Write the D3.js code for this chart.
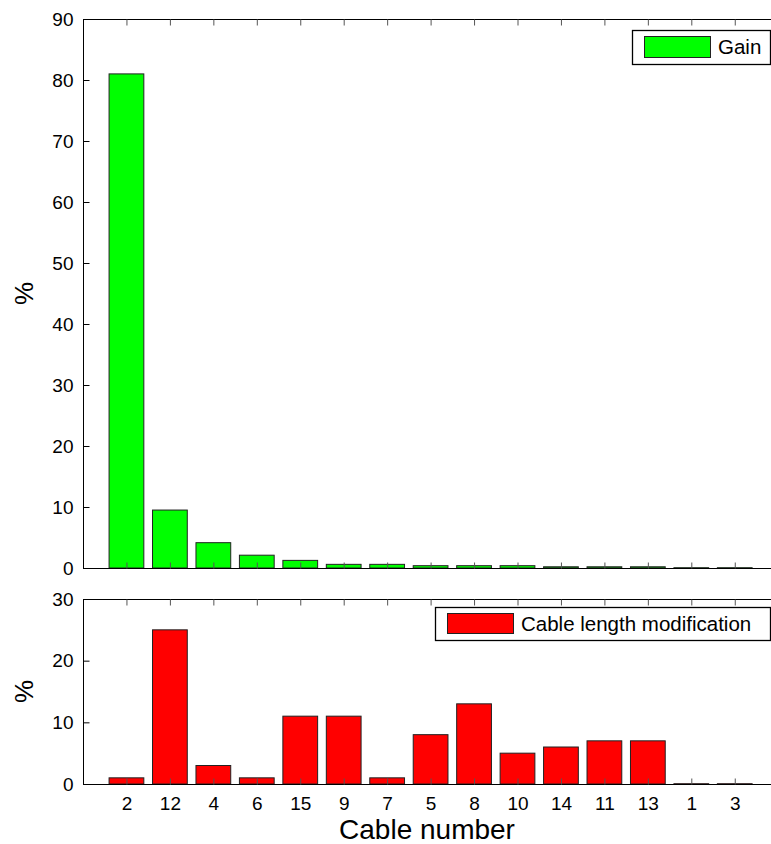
<!DOCTYPE html>
<html><head><meta charset="utf-8">
<script src="https://cdn.jsdelivr.net/npm/d3@7"></script>
<style>body{margin:0;background:#fff}svg{display:block}text{font-family:"Liberation Sans",Arial,sans-serif}</style>
</head><body>
<svg id="c" width="771" height="844"></svg>
<script>
const cables = ["2","12","4","6","15","9","7","5","8","10","14","11","13","1","3"];
const gainValues = [81, 9.5, 4.15, 2.1, 1.25, 0.6, 0.6, 0.38, 0.38, 0.38, 0.2, 0.2, 0.2, 0.05, 0.05];
const cableLengthValues = [1, 25, 3, 1, 11, 11, 1, 8, 13, 5, 6, 7, 7, 0.05, 0.05];
const gainTicks = [0,10,20,30,40,50,60,70,80,90];
const lengthTicks = [0,10,20,30];

const svg = d3.select("#c");
const left = 83, unit = 43.45;
const x = d3.scaleLinear().domain([0, cables.length + 1]).range([left, left + unit*(cables.length+1)]);
const barW = 0.8;

function panel(values, ticks, yMax, top, bottom, color, legendLabel, legendBox, showX) {
  const y = d3.scaleLinear().domain([0, yMax]).range([bottom, top]);
  const g = svg.append("g");
  g.selectAll("rect.bar").data(values).enter().append("rect")
    .attr("x", (d,i) => x(i+1-barW/2))
    .attr("width", x(barW) - x(0))
    .attr("y", d => y(d))
    .attr("height", d => y(0) - y(d))
    .attr("fill", color).attr("stroke", "#222").attr("stroke-width", 1);
  const xr = x.range();
  g.append("line").attr("x1", xr[0]).attr("x2", xr[1]).attr("y1", top+0.5).attr("y2", top+0.5).attr("stroke","#000");
  g.append("line").attr("x1", xr[0]).attr("x2", xr[1]).attr("y1", bottom+0.5).attr("y2", bottom+0.5).attr("stroke","#000");
  const ya = d3.axisLeft(y).tickValues(ticks).tickSize(-6).tickPadding(10).tickFormat(d3.format("d"));
  const yg = g.append("g").attr("transform", `translate(${left+0.5},0)`).call(ya);
  yg.select(".domain").attr("stroke","#000").attr("d", `M0,${top}V${bottom}`);
  yg.selectAll("text").attr("font-size", 19).attr("fill","#000");
  yg.selectAll(".tick line").attr("stroke","#000");
  const xa = d3.axisBottom(x).tickValues(d3.range(1, cables.length+1)).tickSize(-6).tickPadding(12)
    .tickFormat(d => showX ? cables[d-1] : "");
  const xg = g.append("g").attr("transform", `translate(0,${bottom+0.5})`).call(xa);
  xg.select(".domain").remove();
  xg.selectAll(".tick line").attr("stroke","#555");
  xg.selectAll("text").attr("font-size", 19).attr("fill","#000");
  const xt = d3.axisTop(x).tickValues(d3.range(1, cables.length+1)).tickSize(-6).tickFormat("");
  const xtg = g.append("g").attr("transform", `translate(0,${top+0.5})`).call(xt);
  xtg.select(".domain").remove();
  xtg.selectAll(".tick line").attr("stroke","#555");
  const [lx, ly, lw, lh] = legendBox;
  g.append("rect").attr("x", lx+0.5).attr("y", ly+0.5).attr("width", lw).attr("height", lh)
    .attr("fill","#fff").attr("stroke","#000").attr("stroke-width",1.3);
  g.append("rect").attr("x", lx+12.5).attr("y", ly+6.5).attr("width", 66).attr("height", lh-13)
    .attr("fill", color).attr("stroke","#222");
  g.append("text").attr("x", lx+86).attr("y", ly+lh/2+7).attr("font-size", 20.5).attr("fill","#000").text(legendLabel);
  g.append("text").attr("transform", `translate(33,${(top+bottom)/2}) rotate(-90)`)
    .attr("text-anchor","middle").attr("font-size", 26).attr("fill","#000").text("%");
  return g;
}

panel(gainValues, gainTicks, 90, 19, 568, "#00ff00", "Gain", [632, 30, 138, 34], false);
panel(cableLengthValues, lengthTicks, 30, 599, 784, "#ff0000", "Cable length modification", [435, 607, 335, 33], true);

svg.append("text").attr("x", 427).attr("y", 839).attr("text-anchor","middle")
  .attr("font-size", 28).attr("fill","#000").text("Cable number");
</script>
</body></html>
